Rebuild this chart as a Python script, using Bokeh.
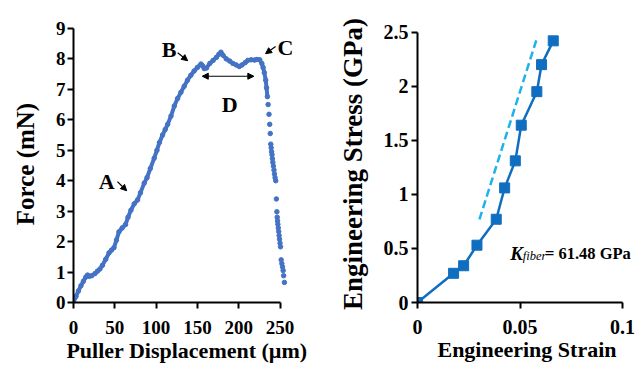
from bokeh.plotting import figure
from bokeh.layouts import row
from bokeh.models import Range1d, FixedTicker, Label, Arrow, NormalHead
from bokeh.embed import file_html
from bokeh.resources import INLINE

# ---------------- Left chart: force vs puller displacement ----------------
displacement_um = [
    0, 3, 6, 9, 12, 15, 17, 19, 22, 26, 29, 32, 35, 39, 43, 46, 49, 52, 55, 59,
    63, 66, 69.5, 73.5, 77.6, 81, 85.6, 89, 93, 97.7, 101, 104, 107.8, 111, 114,
    118, 122, 126, 130, 134, 138, 142, 146, 150, 154.3, 156, 158.3, 161, 165,
    169, 173, 176, 178.5, 181, 185, 189, 193, 197, 200.7, 204, 208, 211, 215,
    219, 222, 225.4, 228, 229.5, 231, 232.7, 233.7, 234.7,
]
force_mN = [
    0, 0.2, 0.38, 0.55, 0.7, 0.84, 0.9, 0.86, 0.88, 0.95, 1.03, 1.1, 1.22, 1.42,
    1.63, 1.72, 1.8, 2.05, 2.32, 2.45, 2.56, 2.8, 3.03, 3.24, 3.37, 3.6, 3.92,
    4.1, 4.4, 4.74, 5.0, 5.25, 5.5, 5.68, 5.85, 6.12, 6.45, 6.7, 6.9, 7.1, 7.3,
    7.46, 7.6, 7.72, 7.83, 7.78, 7.68, 7.7, 7.85, 7.95, 8.05, 8.15, 8.22, 8.12,
    8.0, 7.93, 7.85, 7.8, 7.75, 7.8, 7.88, 7.95, 7.97, 7.96, 7.98, 7.97, 7.85,
    7.72, 7.55, 7.3, 7.05, 6.76,
]
# sparse points after fracture onset
drop_displacement_um = [
    235.6, 236.7, 237.5, 238.2, 238.8, 239.3, 239.8, 240.3, 240.8, 241.3, 242,
    242.7, 243.3, 244, 244.8, 245.6, 246.2, 246.6, 247, 247.4, 247.9, 248.4,
    248.9, 249.4, 250, 250.6, 251.4, 252.2, 253, 253.8, 254.4, 255.3,
]
drop_force_mN = [
    6.5, 6.18, 5.85, 5.55, 5.2, 5.08, 4.95, 4.85, 4.72, 4.6, 4.48, 4.35, 4.22,
    4.1, 4.0, 3.4, 2.98, 2.8, 2.68, 2.57, 2.45, 2.33, 2.2, 2.08, 1.95, 1.83,
    1.4, 1.28, 1.17, 1.05, 0.88, 0.66,
]
left_x_ticks = [0, 50, 100, 150, 200, 250]
left_y_ticks = [0, 1, 2, 3, 4, 5, 6, 7, 8, 9]

# ---------------- Right chart: stress vs strain ----------------
strain = [0, 0.0176, 0.0225, 0.029, 0.0384, 0.0425, 0.0477, 0.0506, 0.0582, 0.0605, 0.0662]
stress_GPa = [0, 0.27, 0.34, 0.53, 0.77, 1.06, 1.31, 1.64, 1.95, 2.2, 2.42]
fit_strain = [0.0302, 0.058]
fit_stress_GPa = [0.768, 2.43]
right_x_ticks = [0, 0.05, 0.1]
right_x_labels = ["0", "0.05", "0.1"]
right_y_ticks = [0, 0.5, 1, 1.5, 2, 2.5]
right_y_labels = ["0", "0.5", "1", "1.5", "2", "2.5"]

SERIF = "Liberation Serif"


def style_axis(ax, ticks, labels, bounds, tick_size, label_size, standoff, label_standoff):
    ax.ticker = FixedTicker(ticks=ticks)
    ax.major_label_overrides = {t: l for t, l in zip(ticks, labels)}
    ax.bounds = bounds
    ax.axis_line_color = "black"
    ax.axis_line_width = 2
    ax.major_tick_line_color = "black"
    ax.major_tick_line_width = 2
    ax.major_tick_in = 0
    ax.major_tick_out = 6
    ax.minor_tick_line_color = None
    ax.major_label_text_font = SERIF
    ax.major_label_text_font_style = "bold"
    ax.major_label_text_font_size = tick_size
    ax.major_label_text_color = "black"
    ax.major_label_standoff = standoff
    ax.axis_label_text_font = SERIF
    ax.axis_label_text_font_style = "bold"
    ax.axis_label_text_font_size = label_size
    ax.axis_label_text_color = "black"
    ax.axis_label_standoff = label_standoff


def base_figure(width, xr, yr, mb):
    p = figure(width=width, height=367, output_backend="svg", toolbar_location=None,
               x_range=Range1d(*xr), y_range=Range1d(*yr),
               min_border_left=mb[0], min_border_right=mb[1],
               min_border_top=mb[2], min_border_bottom=mb[3])
    p.xgrid.visible = False
    p.ygrid.visible = False
    p.outline_line_color = None
    p.background_fill_color = "white"
    p.border_fill_color = "white"
    return p


def text(p, x, y, t, size, style="bold", align="left", baseline="alphabetic"):
    p.add_layout(Label(x=x, y=y, text=t, text_font=SERIF, text_font_style=style,
                       text_font_size=size, text_align=align, text_baseline=baseline,
                       text_color="black"))


# ---- left figure ----
p1 = base_figure(328, (0, 274.8), (0, 9.096), (73, 28, 17, 65))
p1.line(displacement_um, force_mN, line_color="#4472C4", line_width=4)
p1.scatter(displacement_um, force_mN, size=4.5, color="#4472C4")
p1.scatter(drop_displacement_um, drop_force_mN, size=4.5, color="#4472C4")
p1.xaxis.axis_label = "Puller Displacement (µm)"
p1.yaxis.axis_label = "Force (mN)"
style_axis(p1.xaxis[0], left_x_ticks, [str(t) for t in left_x_ticks], (0, 250), "19px", "22px", 12, 1)
style_axis(p1.yaxis[0], left_y_ticks, [str(t) for t in left_y_ticks], (0, 9), "19px", "25px", 2, 14)

text(p1, 40.3, 3.98, "A", "22px", align="center")
text(p1, 115.6, 8.31, "B", "22px", align="center")
text(p1, 256.6, 8.36, "C", "22px", align="center")
text(p1, 189.2, 6.5, "D", "22px", align="center")


def head():
    return NormalHead(size=6, fill_color="black", line_color="black")


p1.add_layout(Arrow(end=head(), x_start=53.2, y_start=3.97, x_end=64.4, y_end=3.67, line_width=1.2))
p1.add_layout(Arrow(end=head(), x_start=126.1, y_start=8.2, x_end=138.2, y_end=7.94, line_width=1.2))
p1.add_layout(Arrow(end=head(), x_start=244.6, y_start=8.41, x_end=232.5, y_end=8.17, line_width=1.2))
p1.add_layout(Arrow(start=head(), end=head(), x_start=155.9, y_start=7.43, x_end=218.3, y_end=7.43,
                    line_width=1.2))

# ---- right figure ----
p2 = base_figure(308, (0, 0.1068), (0, 2.562), (89, 0, 25, 64))
p2.line(fit_strain, fit_stress_GPa, line_color="#1EB1EC", line_width=2.5, line_dash="8 4")
p2.line(strain, stress_GPa, line_color="#0F6EC0", line_width=2.5)
p2.scatter(strain, stress_GPa, marker="square", size=10, color="#0F6EC0")
p2.xaxis.axis_label = "Engineering Strain"
p2.yaxis.axis_label = "Engineering Stress (GPa)"
style_axis(p2.xaxis[0], right_x_ticks, right_x_labels, (0, 0.1), "20px", "22px", 11, 0)
style_axis(p2.yaxis[0], right_y_ticks, right_y_labels, (0, 2.5), "20px", "27px", 3, 13)

# modulus annotation
text(p2, 0.0483, 0.452, "K", "19px", style="bold italic", align="center")
text(p2, 0.0571, 0.433, "fiber", "12.5px", style="italic", align="center")
text(p2, 0.0831, 0.452, "= 61.48 GPa", "16.5px", align="center")

layout = row(p1, p2)
open("out.html", "w").write(file_html(layout, INLINE))
